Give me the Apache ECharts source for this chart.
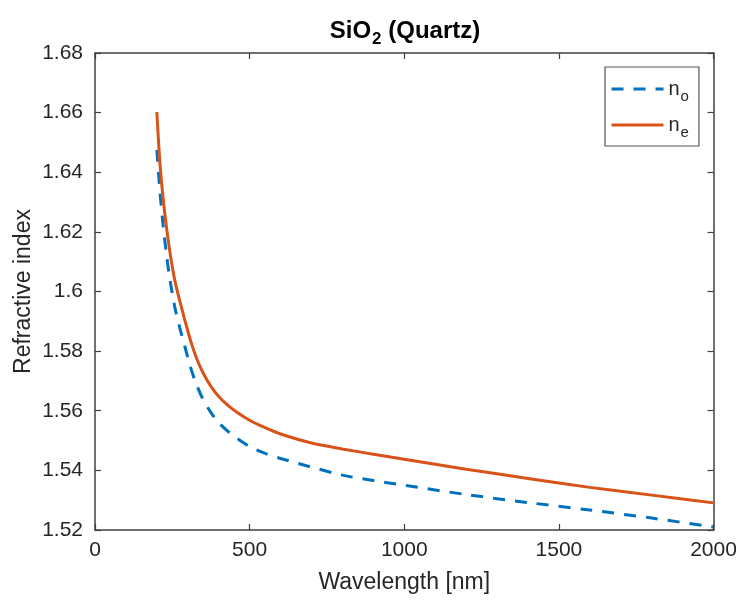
<!DOCTYPE html>
<html><head><meta charset="utf-8">
<script src="https://cdn.jsdelivr.net/npm/echarts@6/dist/echarts.min.js"></script>
<style>html,body{margin:0;padding:0;background:#fff}#c{width:744px;height:603px}</style>
</head><body><div id="c"></div>
<script>
// Wavelength grid [nm]
const wavelengths = [200, 210, 220, 230, 240, 250, 260, 275, 290, 310, 330, 350, 375, 400, 430, 460, 500, 550, 600, 700, 800, 900, 1000, 1200, 1400, 1600, 1800, 2000];
// Ordinary index n_o
const nO = [1.6475, 1.6335, 1.6225, 1.6133, 1.6056, 1.5993, 1.5938, 1.5875, 1.5818, 1.5742, 1.5683, 1.5637, 1.5594, 1.5560, 1.5531, 1.5507, 1.5480, 1.5457, 1.5440, 1.5411, 1.5384, 1.5366, 1.5350, 1.5319, 1.5292, 1.5267, 1.5240, 1.5210];
// Extraordinary index n_e
const nE = [1.6602, 1.6430, 1.6316, 1.6225, 1.6148, 1.6082, 1.6028, 1.5965, 1.5906, 1.5832, 1.5772, 1.5726, 1.5682, 1.5648, 1.5618, 1.5594, 1.5568, 1.5543, 1.5522, 1.5492, 1.5472, 1.5454, 1.5437, 1.5404, 1.5373, 1.5343, 1.5317, 1.5291];
const xTicks = [0, 500, 1000, 1500, 2000];
const yTicks = [1.52, 1.54, 1.56, 1.58, 1.60, 1.62, 1.64, 1.66, 1.68];
const seriesNames = ['n_o', 'n_e'];

const FONT = 'Liberation Sans, Arial, Helvetica, sans-serif';
const AXC = '#404040';
const TXT = '#262626';
const xMin = xTicks[0], xMax = xTicks[xTicks.length - 1], xInt = xTicks[1] - xTicks[0];
const yMin = yTicks[0], yMax = yTicks[yTicks.length - 1], yInt = 0.02;

const pair = (xs, ys) => xs.map((x, i) => [x, ys[i]]);

function axisBase(pos, showLabel) {
  return {
    type: 'value', position: pos,
    axisLine: { show: true, onZero: false, lineStyle: { color: AXC, width: 1.5 } },
    axisTick: { show: true, inside: true, length: 6, lineStyle: { color: AXC, width: 1.2 } },
    splitLine: { show: false },
    axisLabel: { show: showLabel, color: TXT, fontFamily: FONT, fontSize: 21 }
  };
}

const chart = echarts.init(document.getElementById('c'), null, { renderer: 'canvas' });
chart.setOption({
  animation: false,
  backgroundColor: '#fff',
  title: {
    text: '{a|SiO}{s|2}{a| (Quartz)}',
    left: 405, top: 16, textAlign: 'center',
    padding: 0,
    textStyle: {
      rich: {
        a: { fontFamily: FONT, fontWeight: 'bold', fontSize: 24, color: '#000', lineHeight: 30 },
        s: { fontFamily: FONT, fontWeight: 'bold', fontSize: 17, color: '#000', lineHeight: 17, padding: [17, 0, 0, 1] }
      }
    }
  },
  grid: { left: 95, right: 30.5, top: 53, bottom: 73, containLabel: false },
  legend: {
    orient: 'vertical', left: 605, top: 67,
    padding: [7, 10, 6, 5],
    itemWidth: 52, itemHeight: 12, itemGap: 6,
    borderColor: '#555', borderWidth: 1.2, borderRadius: 0,
    backgroundColor: '#fff',
    itemStyle: { opacity: 0 },
    lineStyle: { width: 3 },
    data: seriesNames,
    formatter: name => '{n|n}{s|' + name.split('_')[1] + '}',
    textStyle: {
      rich: {
        n: { fontFamily: FONT, fontSize: 20, color: TXT, lineHeight: 28 },
        s: { fontFamily: FONT, fontSize: 15, color: TXT, lineHeight: 15, padding: [15, 0, 0, 1] }
      }
    }
  },
  xAxis: [
    Object.assign(axisBase('bottom', true), {
      min: xMin, max: xMax, interval: xInt,
      name: 'Wavelength [nm]', nameLocation: 'middle', nameGap: 41, nameMoveOverlap: false,
      nameTextStyle: { color: TXT, fontFamily: FONT, fontSize: 23 },
      axisLabel: { show: true, color: TXT, fontFamily: FONT, fontSize: 21, margin: 10,
        formatter: v => String(v) }
    }),
    Object.assign(axisBase('top', false), { min: xMin, max: xMax, interval: xInt })
  ],
  yAxis: [
    Object.assign(axisBase('left', true), {
      min: yMin, max: yMax, interval: yInt,
      name: 'Refractive index', nameLocation: 'middle', nameGap: 60, nameMoveOverlap: false,
      nameTextStyle: { color: TXT, fontFamily: FONT, fontSize: 23 },
      axisLabel: { show: true, color: TXT, fontFamily: FONT, fontSize: 21, margin: 12,
        formatter: v => String(+v.toFixed(2)) }
    }),
    Object.assign(axisBase('right', false), { min: yMin, max: yMax, interval: yInt })
  ],
  series: [
    {
      name: seriesNames[0], type: 'line', xAxisIndex: 0, yAxisIndex: 0,
      data: pair(wavelengths, nO), showSymbol: false, symbol: 'none',
      smooth: 0.3,
      lineStyle: { color: '#0072BD', width: 3, type: [12, 10] },
      itemStyle: { color: '#0072BD' }
    },
    {
      name: seriesNames[1], type: 'line', xAxisIndex: 0, yAxisIndex: 0,
      data: pair(wavelengths, nE), showSymbol: false, symbol: 'none',
      smooth: 0.3,
      lineStyle: { color: '#D95319', width: 3 },
      itemStyle: { color: '#D95319' }
    }
  ]
});
</script></body></html>
